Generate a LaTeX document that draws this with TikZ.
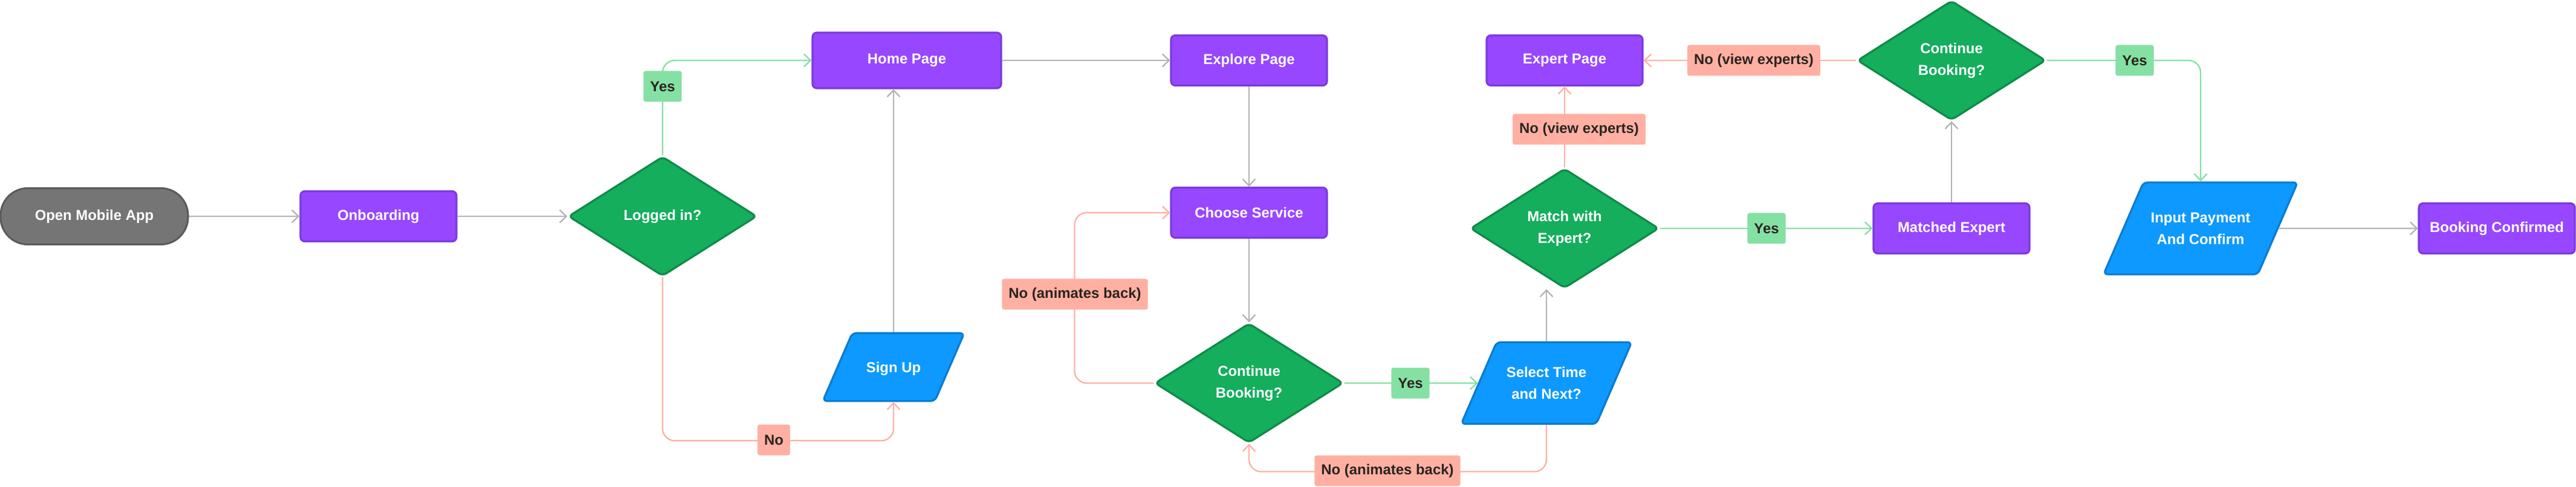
\documentclass[tikz,border=0pt]{standalone}
\usepackage{fontspec}
\setmainfont{Liberation Sans}
\usepackage{tikz}
\usetikzlibrary{calc}
\usetikzlibrary{positioning}
\usetikzlibrary{shapes}
\usetikzlibrary{arrows.meta}

\definecolor{greyfill}{HTML}{757575}
\definecolor{greyedge}{HTML}{5C5C5C}
\definecolor{purplefill}{HTML}{9747FF}
\definecolor{purpleedge}{HTML}{7B3BDB}
\definecolor{greenfill}{HTML}{14AE5C}
\definecolor{greenedge}{HTML}{0E8A48}
\definecolor{bluefill}{HTML}{0D99FF}
\definecolor{blueedge}{HTML}{0B7BD0}
\definecolor{flowgrey}{HTML}{B3B3B3}
\definecolor{yesgreen}{HTML}{85E0A3}
\definecolor{nored}{HTML}{FFB0A3}
\definecolor{labeltext}{HTML}{2A2420}

\begin{document}
\begin{tikzpicture}[
		every node/.style={font=\fontsize{6.8}{10.2}\selectfont\bfseries, align=center},
		>={Straight Barb[length=1.1mm, width=2.1mm]},
		term/.style={rectangle, draw=greyedge, fill=greyfill, text=white, line width=0.9pt, rounded corners=0.45cm, minimum width=3.1cm, minimum height=0.93cm},
		box/.style={rectangle, draw=purpleedge, fill=purplefill, text=white, line width=0.9pt, rounded corners=2pt, minimum width=2.58cm, minimum height=0.83cm},
		decision/.style={diamond, draw=greenedge, fill=greenfill, text=white, line width=0.9pt, rounded corners=2pt, inner sep=0pt, minimum width=3.12cm, minimum height=1.98cm},
		io/.style={trapezium, trapezium left angle=66.6, trapezium right angle=113.4, trapezium stretches body, draw=blueedge, fill=bluefill, text=white, line width=0.9pt, rounded corners=2pt, inner xsep=1pt, inner ysep=0pt},
		flow/.style={draw=flowgrey, line width=0.65pt, rounded corners=0.2cm},
		yesflow/.style={draw=yesgreen, line width=0.65pt, rounded corners=0.2cm},
		noflow/.style={draw=nored, line width=0.65pt, rounded corners=0.2cm},
		yes/.style={fill=yesgreen, text=labeltext, rounded corners=1pt, inner xsep=0.11cm, inner ysep=0pt, minimum height=0.51cm},
		no/.style={fill=nored, text=labeltext, rounded corners=1pt, inner xsep=0.11cm, inner ysep=0pt, minimum height=0.51cm}
	]
	\useasboundingbox (0,0) rectangle (42.61,-8.06);
	
	\node[term] (A) at (1.56,-3.58) {Open Mobile App};
	\node[box] (O) at (6.26,-3.58) {Onboarding};
	\node[decision] (L) at (10.96,-3.58) {Logged in?};
	\node[box, minimum width=3.12cm, minimum height=0.92cm] (H) at (15.00,-1.00) {Home Page};
	\node[io, minimum width=2.34cm, text height=18.5pt, text depth=13.5pt] (U) at (14.78,-6.075) {Sign Up};
	\node[box] (E) at (20.66,-1.00) {Explore Page};
	\node[box] (C) at (20.66,-3.52) {Choose Service};
	\node[decision] (B1) at (20.66,-6.34) {Continue\\Booking?};
	\node[io, minimum width=2.82cm, text height=26.8pt, text depth=11.7pt] (T) at (25.58,-6.34) {Select Time\\and Next?};
	\node[decision] (M) at (25.88,-3.78) {Match with\\Expert?};
	\node[box] (X) at (25.88,-1.00) {Expert Page};
	\node[decision] (B2) at (32.28,-1.00) {Continue\\Booking?};
	\node[box] (ME) at (32.28,-3.78) {Matched Expert};
	\node[io, minimum width=3.21cm, text height=29.2pt, text depth=14.1pt] (P) at (36.40,-3.78) {Input Payment\\And Confirm};
	\node[box] (F) at (41.30,-3.78) {Booking Confirmed};
	
	\draw[flow, ->] (A) -- (O);
	\draw[flow, ->] (O) -- (L);
	\draw[yesflow, ->] (L.north) |- (H.west);
	\draw[noflow, ->] (L.south) |- ([yshift=-0.64cm]U.south) -- (U.south);
	\draw[flow, ->] (U.north) -- (U.north |- H.south);
	\draw[flow, ->] (H) -- (E);
	\draw[flow, ->] (E) -- (C);
	\draw[flow, ->] (C) -- (B1);
	\draw[noflow, ->] (B1.west) -| ([xshift=-1.58cm]C.west) -- (C.west);
	\draw[yesflow, ->] (B1.east) -- (T.west);
	\draw[noflow, ->] (T.south) |- ([yshift=-0.46cm]B1.south) -- (B1.south);
	\draw[flow, ->] (T.north) -- (T.north |- M.south);
	\draw[noflow, ->] (M.north) -- (X.south);
	\draw[yesflow, ->] (M.east) -- (ME.west);
	\draw[flow, ->] (ME.north) -- (B2.south);
	\draw[noflow, ->] (B2.west) -- (X.east);
	\draw[yesflow, ->] (B2.east) -| (P.north);
	\draw[flow, ->] (P.east) -- (F.west);
	
	\node[yes] (y1) at (10.96,-1.43) {Yes};
	\node[no] (n1) at (12.80,-7.28) {No};
	\node[no] (n2) at (17.78,-4.87) {No (animates back)};
	\node[yes] (y2) at (23.33,-6.34) {Yes};
	\node[no] (n3) at (22.95,-7.79) {No (animates back)};
	\node[no] (n4) at (26.12,-2.14) {No (view experts)};
	\node[yes] (y3) at (29.22,-3.78) {Yes};
	\node[no] (n5) at (29.01,-1.00) {No (view experts)};
	\node[yes] (y4) at (35.31,-1.00) {Yes};
\end{tikzpicture}
\end{document}
